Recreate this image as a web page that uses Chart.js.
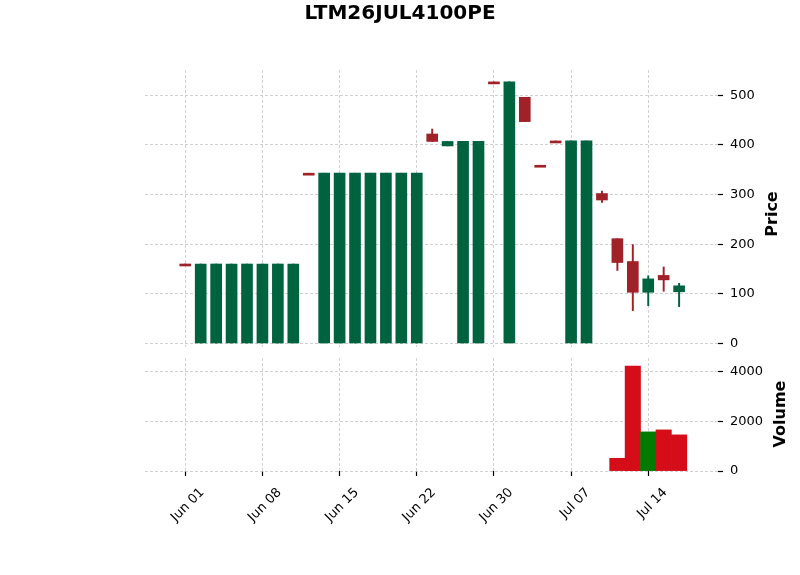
<!DOCTYPE html>
<html>
<head>
<meta charset="utf-8">
<script src="https://cdn.jsdelivr.net/npm/chart.js@4"></script>
<style>
  body { margin: 0; background: #fff; }
  #wrap { position: relative; width: 800px; height: 575px; font-family: 'DejaVu Sans', sans-serif; }
  canvas { position: absolute; left: 0; top: 0; }
  .lbl { position: absolute; font-weight: bold; color: #000; white-space: nowrap; }
</style>
</head>
<body>
<div id="wrap">
  <canvas id="price" width="800" height="575"></canvas>
  <canvas id="vol" width="800" height="575"></canvas>
  <div class="lbl" style="left:0;width:800px;top:0;text-align:center;font-size:20px;">LTM26JUL4100PE</div>
  <div class="lbl" style="left:771px;top:214px;font-size:16px;transform:translate(-50%,-50%) rotate(-90deg);">Price</div>
  <div class="lbl" style="left:779px;top:414px;font-size:16px;transform:translate(-50%,-50%) rotate(-90deg);">Volume</div>
</div>
<script>
// trading days (Jun 26 holiday)
var dates = ['2026-06-01','2026-06-02','2026-06-03','2026-06-04','2026-06-05',
  '2026-06-08','2026-06-09','2026-06-10','2026-06-11','2026-06-12',
  '2026-06-15','2026-06-16','2026-06-17','2026-06-18','2026-06-19',
  '2026-06-22','2026-06-23','2026-06-24','2026-06-25','2026-06-29',
  '2026-06-30','2026-07-01','2026-07-02','2026-07-03','2026-07-06',
  '2026-07-07','2026-07-08','2026-07-09','2026-07-10','2026-07-13',
  '2026-07-14','2026-07-15','2026-07-16'];
var opens  = [160,0,0,0,0,0,0,0,343,0,0,0,0,0,0,0,422,398,0,0,527,0,496,359,408,0,0,302,211,165,103,137,104];
var highs  = [160,160,160,160,160,160,160,160,343,343,343,343,343,343,343,343,432,407,407,407,527,527,496,359,408,408,408,307,211,199,136,154,121];
var lows   = [160,0,0,0,0,0,0,0,343,0,0,0,0,0,0,0,407,398,0,0,527,0,447,359,408,0,0,284,147,66,76,105,74];
var closes = [160,160,160,160,160,160,160,160,343,343,343,343,343,343,343,343,407,407,407,407,527,527,447,359,408,408,408,289,163,103,130,128,116];
var volumes = [0,0,0,0,0,0,0,0,0,0,0,0,0,0,0,0,0,0,0,0,0,0,0,0,0,0,0,0,510,4210,1570,1650,1450];
var priceTicks = [0,100,200,300,400,500];
var volTicks = [0,2000,4000];
var dateTicks = [0,5,10,15,20,25,30];

var months = ['Jan','Feb','Mar','Apr','May','Jun','Jul','Aug','Sep','Oct','Nov','Dec'];
function fmtDate(s) {
    var p = s.split('-');
    return months[parseInt(p[1], 10) - 1] + ' ' + p[2];
}

var UP = '#006340', DOWN = '#a02128';
var VUP = '#007a00', VDOWN = '#d50d18';
var GRID = '#c4c4c4';
var XMIN = -2.61, XMAX = 34.52;
var font = { family: 'DejaVu Sans', size: 13 };

var bodyData = [], wickData = [], candleColors = [], volData = [], volColors = [];
for (var i = 0; i < dates.length; i++) {
    bodyData.push({ x: i, y: [opens[i], closes[i]] });
    wickData.push({ x: i, y: [lows[i], highs[i]] });
    candleColors.push(closes[i] > opens[i] ? UP : DOWN);
    volData.push({ x: i, y: volumes[i] });
    if (volumes[i] === 0) volColors.push('rgba(0,0,0,0)');
    else volColors.push(i > 0 && closes[i] > closes[i - 1] ? VUP : VDOWN);
}

function setTicks(list) {
    return function (scale) { scale.ticks = list.map(function (v) { return { value: v }; }); };
}
function fixSize(prop, size) {
    return function (scale) { scale[prop] = size; };
}

// price panel
new Chart(document.getElementById('price').getContext('2d'), {
    type: 'bar',
    data: {
        datasets: [
            { data: wickData, backgroundColor: candleColors, barThickness: 1.3, grouped: false, order: 2 },
            { data: bodyData, backgroundColor: candleColors, barThickness: 11, minBarLength: 2, grouped: false, order: 1 }
        ]
    },
    options: {
        responsive: false, animation: false, devicePixelRatio: 1,
        layout: { padding: { left: 145, top: 70, right: 0, bottom: 0 } },
        plugins: { legend: { display: false }, tooltip: { enabled: false } },
        scales: {
            x: {
                type: 'linear', min: XMIN, max: XMAX, offset: false,
                afterBuildTicks: setTicks(dateTicks),
                afterFit: fixSize('height', 228),
                ticks: { display: false },
                grid: { offset: false, color: GRID, lineWidth: 0.8, drawTicks: false },
                border: { display: false, dash: [3, 2] }
            },
            y: {
                position: 'right', min: -7.3, max: 551,
                afterBuildTicks: setTicks(priceTicks),
                afterFit: fixSize('width', 82),
                ticks: { font: font, color: '#000', padding: 7 },
                grid: { color: GRID, lineWidth: 0.8, tickColor: '#000', tickLength: 5, tickWidth: 1.2, tickBorderDash: [] },
                border: { display: false, dash: [3, 2] }
            }
        }
    }
});

// volume panel
new Chart(document.getElementById('vol').getContext('2d'), {
    type: 'bar',
    data: {
        datasets: [
            { data: volData, backgroundColor: volColors, barThickness: 15.4, grouped: false }
        ]
    },
    options: {
        responsive: false, animation: false, devicePixelRatio: 1,
        layout: { padding: { left: 145, top: 358, right: 0, bottom: 0 } },
        plugins: { legend: { display: false }, tooltip: { enabled: false } },
        scales: {
            x: {
                type: 'linear', min: XMIN, max: XMAX, offset: false,
                afterBuildTicks: setTicks(dateTicks),
                afterFit: fixSize('height', 104),
                ticks: {
                    font: font, color: '#000', padding: 9, labelOffset: 17,
                    maxRotation: 45, minRotation: 45, autoSkip: false,
                    callback: function (v) { return dates[v] ? fmtDate(dates[v]) : ''; }
                },
                grid: { offset: false, color: GRID, lineWidth: 0.8, tickColor: '#000', tickLength: 5, tickWidth: 1.2, tickBorderDash: [] },
                border: { display: false, dash: [3, 2] }
            },
            y: {
                position: 'right', min: 0, max: 4535,
                afterBuildTicks: setTicks(volTicks),
                afterFit: fixSize('width', 82),
                ticks: { font: font, color: '#000', padding: 7, callback: function (v) { return String(v); } },
                grid: { color: GRID, lineWidth: 0.8, tickColor: '#000', tickLength: 5, tickWidth: 1.2, tickBorderDash: [] },
                border: { display: false, dash: [3, 2] }
            }
        }
    }
});
</script>
</body>
</html>
